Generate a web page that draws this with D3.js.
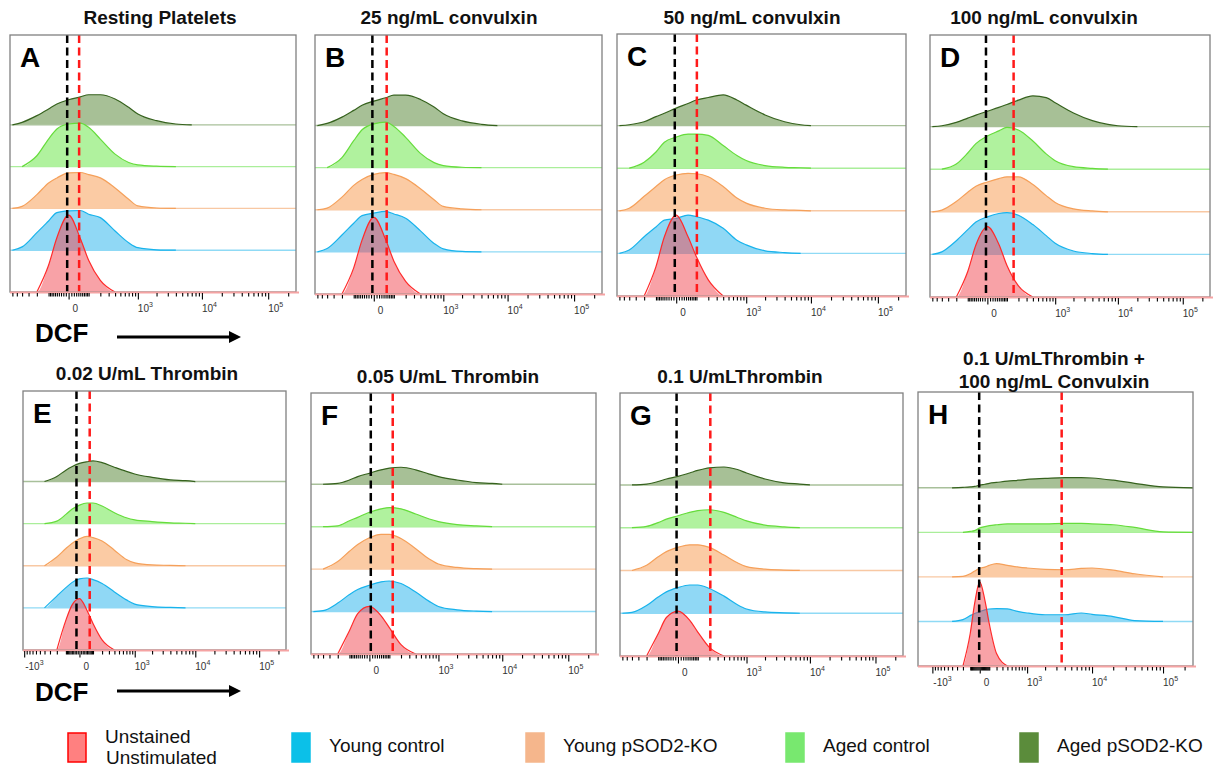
<!DOCTYPE html>
<html><head><meta charset="utf-8">
<script src="https://cdn.jsdelivr.net/npm/d3@7"></script>
<style>
body{margin:0;background:#fff;}
svg text{font-family:"Liberation Sans",Arial,sans-serif;}
</style></head><body>
<svg id="chart" width="1214" height="770"></svg>
<script>
// ---------------- DATA ----------------
const seriesNames = ["Unstained\nUnstimulated","Young control","Young pSOD2-KO","Aged control","Aged pSOD2-KO"];
const panelLetters = ["A","B","C","D","E","F","G","H"];
const panelTitles = [
  ["Resting Platelets"],["25 ng/mL convulxin"],["50 ng/mL convulxin"],["100 ng/mL convulxin"],
  ["0.02 U/mL Thrombin"],["0.05 U/mL Thrombin"],["0.1 U/mLThrombin"],["0.1 U/mLThrombin +","100 ng/mL Convulxin"]
];
// DCF fluorescence values at which histogram heights were read
const xGrid = [-1000,-600,-400,-200,-100,-50,0,50,100,200,400,700,1000,2000,4000,7000,10000,20000,40000,100000,262144];
// heights (100 = one lane step); order: Unstained, Young control, Young pSOD2-KO, Aged control, Aged pSOD2-KO
const histA = [
  [0,0,0,0,64,130,184,128,76,28,0,0,0,0,0,0,0,0,0,0,0],
  [0,0,8,42,70,90,94,95,86,78,46,18,6,1,0,0,0,0,0,0,0],
  [0,0,5,33,61,73,85,86,81,73,49,22,6,1,0,0,0,0,0,0,0],
  [0,0,0,26,66,90,102,104,94,66,30,10,4,1,0,0,0,0,0,0,0],
  [0,0,6,22,38,50,60,67,72,72,62,42,26,10,2,0,0,0,0,0,0]];
const histB = [
  [0,0,0,0,62,128,182,130,78,30,0,0,0,0,0,0,0,0,0,0,0],
  [0,0,8,40,68,86,92,96,90,80,50,20,7,1,0,0,0,0,0,0,0],
  [0,0,4,30,58,72,84,88,84,74,50,24,8,2,0,0,0,0,0,0,0],
  [0,0,0,24,64,90,104,108,98,72,34,12,5,1,0,0,0,0,0,0,0],
  [0,0,5,20,36,48,58,66,72,72,62,44,28,11,3,0,0,0,0,0,0]];
const histC = [
  [0,0,0,0,69,139,190,139,92,38,0,0,0,0,0,0,0,0,0,0,0],
  [0,0,8,39,62,78,82,90,86,78,59,31,20,6,2,0,0,0,0,0,0],
  [0,0,6,34,57,73,84,88,87,80,57,30,18,6,2,1,0,0,0,0,0],
  [0,0,0,14,38,61,73,80,80,77,53,30,18,6,2,1,0,0,0,0,0],
  [0,0,2,9,21,29,41,52,60,66,72,60,48,25,9,2,0,0,0,0,0]];
const histD = [
  [0,0,0,0,60,122,165,124,74,26,0,0,0,0,0,0,0,0,0,0,0],
  [0,0,6,32,58,76,88,96,98,92,70,44,26,8,2,0,0,0,0,0,0],
  [0,0,4,24,46,60,70,78,82,82,64,38,22,7,2,0,0,0,0,0,0],
  [0,0,0,12,38,60,78,90,98,92,66,36,20,6,2,0,0,0,0,0,0],
  [0,0,2,10,20,27,36,45,52,62,72,68,56,32,14,5,2,0,0,0,0]];
const histE = [
  [0,0,0,0,71,106,122,94,63,24,0,0,0,0,0,0,0,0,0,0,0],
  [0,0,0,28,48,60,69,71,67,58,38,19,9,3,1,0,0,0,0,0,0],
  [0,0,0,21,41,53,64,70,67,59,37,15,7,2,1,0,0,0,0,0,0],
  [0,0,0,6,22,34,44,49,49,42,26,14,9,5,2,1,0,0,0,0,0],
  [0,0,0,12,27,35,43,47,49,45,34,24,18,10,4,2,0,0,0,0,0]];
const histF = [
  [0,0,0,0,55,95,112,90,62,22,0,0,0,0,0,0,0,0,0,0,0],
  [0,0,2,20,40,52,62,70,72,66,46,24,12,4,1,0,0,0,0,0,0],
  [0,0,0,18,42,58,74,82,82,72,48,24,12,4,1,0,0,0,0,0,0],
  [0,0,0,2,14,22,34,42,45,42,30,18,12,5,2,0,0,0,0,0,0],
  [0,0,0,2,10,18,26,34,38,40,34,24,18,10,4,2,0,0,0,0,0]];
const histG = [
  [0,0,0,0,52,90,105,84,56,20,0,0,0,0,0,0,0,0,0,0,0],
  [0,0,2,18,38,50,60,66,66,58,40,20,10,3,1,0,0,0,0,0,0],
  [0,0,0,12,32,44,54,60,60,54,36,18,9,3,1,0,0,0,0,0,0],
  [0,0,0,3,12,20,28,36,40,42,36,24,16,6,2,0,0,0,0,0,0],
  [0,0,0,2,8,14,20,28,34,40,42,36,28,14,5,2,0,0,0,0,0]];
const histH = [
  [0,0,0,0,73,140,189,148,95,28,0,0,0,0,0,0,0,0,0,0,0],
  [0,0,0,4,13,18,22,26,28,29,28,22,19,15,15,19,16,11,2,0,0],
  [0,0,0,1,7,13,19,22,26,30,26,22,20,17,16,19,20,15,7,0,0],
  [0,0,0,0,2,4,10,13,15,17,19,19,19,19,20,20,19,17,11,1,0],
  [0,0,0,1,2,3,6,8,10,12,15,17,19,21,23,23,22,17,10,2,0]];
const panelHists = [histA,histB,histC,histD,histE,histF,histG,histH];
// dashed reference lines (DCF values)
const blackLine = [-5,-5,-5,-5,-18,5,-5,-5];
const redLine = [44,56,103,153,71,125,210,3600];
// axis (biexponential display) settings
const axisConst = [100,100,100,100,160,100,100,280];
const axisMin = [-660,-660,-660,-660,-1050,-660,-660,-1750];
const axisMax = 262144;
const majorTicks = [-1000,0,1000,10000,100000];
const majorLabels = [["-10","3"],["0",""],["10","3"],["10","4"],["10","5"]];

// ---------------- STYLE / LAYOUT ----------------
const strokeC = ["#ff2b2b","#18b3ec","#f5a05a","#66dc3c","#36621e"];
const fillC = ["rgba(242,70,80,0.5)","#90d8f5","#fbcba4","#b0f29e","#a7c096"];
const baseC = ["#f5a3a3","#8fdaf5","#f8c8a3","#aaee9a","#a8c09a"];
const legendC = ["#ff8080","#0bc0e8","#f5b68c","#78e86f","#5b8c3b"];
const boxes = [
  [10,296,35,292],[315,602,35,294],[617,906,34,296],[930,1210,35,297],
  [23,286,391,650],[311,596,393,654],[620,903,393,656],[918,1193,392,666]];
const titlePos = [[160,[24]],[449,[24]],[752,[24]],[1044,[24]],[147,[380]],[448,[383]],[740,[383]],[1054,[365,388]]];

const svg = d3.select("#chart");
const defs = svg.append("defs");

panelHists.forEach((hist,i)=>{
  const [x0,x1,y0,y1] = boxes[i];
  const x = d3.scaleSymlog().constant(axisConst[i]).domain([axisMin[i],axisMax]).range([x0,x1]);
  const laneH = (y1-y0)/6.15;
  const lane = d3.scaleLinear().domain([0,4]).range([y1,y1-4*laneH]);
  defs.append("clipPath").attr("id","clip"+i).append("rect")
    .attr("x",x0).attr("y",y0).attr("width",x1-x0).attr("height",y1-y0+1);
  const g = svg.append("g");
  const gc = g.append("g").attr("clip-path",`url(#clip${i})`);
  for(let s=4;s>=0;s--){
    const base = lane(s);
    const h = d3.scaleLinear().domain([0,100]).range([base,base-laneH]);
    const data = xGrid.map((v,k)=>[v,hist[s][k]]);
    if(s>0) gc.append("line").attr("x1",x0).attr("x2",x1).attr("y1",base).attr("y2",base)
      .attr("stroke",baseC[s]).attr("stroke-width",1.4);
    const area = d3.area().x(d=>x(d[0])).y0(base).y1(d=>h(d[1])).curve(d3.curveMonotoneX);
    gc.append("path").datum(data).attr("d",area).attr("fill",fillC[s]);
    const line = d3.line()
      .defined((d,k)=>d[1]>0||(k>0&&data[k-1][1]>0)||(k<data.length-1&&data[k+1][1]>0))
      .x(d=>x(d[0])).y(d=>h(d[1])).curve(d3.curveMonotoneX);
    gc.append("path").datum(data).attr("d",line).attr("fill","none")
      .attr("stroke",strokeC[s]).attr("stroke-width",1.2);
  }
  // dashed lines
  g.append("line").attr("x1",x(blackLine[i])).attr("x2",x(blackLine[i])).attr("y1",y0).attr("y2",y1)
    .attr("stroke","#000").attr("stroke-width",2.5).attr("stroke-dasharray","8,4.5");
  g.append("line").attr("x1",x(redLine[i])).attr("x2",x(redLine[i])).attr("y1",y0).attr("y2",y1)
    .attr("stroke","#ff1a1a").attr("stroke-width",2.5).attr("stroke-dasharray","8,4.5");
  // frame
  g.append("rect").attr("x",x0).attr("y",y0).attr("width",x1-x0).attr("height",y1-y0)
    .attr("fill","none").attr("stroke","#808080").attr("stroke-width",1.3);
  g.append("line").attr("x1",x0).attr("x2",x1+3).attr("y1",y1+0.5).attr("y2",y1+0.5)
    .attr("stroke",baseC[0]).attr("stroke-width",2);
  // ticks
  const dom = x.domain();
  const minor = [];
  for(let n=1;n<=5;n++) for(let k=1;k<=9;k++){
    const v = k*Math.pow(10,n);
    [v,-v].forEach(t=>{ if(t>=dom[0]&&t<=dom[1]&&!majorTicks.includes(t)) minor.push(t); });
  }
  const majors = majorTicks.filter(t=>t>=dom[0]&&t<=dom[1]);
  const axMinor = g.append("g").attr("transform",`translate(0,${y1+1})`)
    .call(d3.axisBottom(x).tickValues(minor).tickFormat("").tickSize(3.5));
  const axMajor = g.append("g").attr("transform",`translate(0,${y1+1})`)
    .call(d3.axisBottom(x).tickValues(majors).tickFormat("").tickSize(6.5));
  [axMinor,axMajor].forEach(a=>{a.select(".domain").remove(); a.selectAll("line").attr("stroke","#000").attr("stroke-width",1.1);});
  majorTicks.forEach((t,k)=>{
    if(t<dom[0]||t>dom[1]) return;
    const lab = majorLabels[k];
    const tx = g.append("text").attr("x",x(t)+(t===0?4:(t<0?1:0))).attr("y",y1+20)
      .attr("font-size",10).attr("fill","#333");
    tx.append("tspan").text(lab[0]);
    if(lab[1]) tx.append("tspan").attr("dy",-5).attr("font-size",7).text(lab[1]);
  });
  // letter
  g.append("text").attr("x",x0+10).attr("y",y0+32).attr("font-size",28).attr("font-weight","bold")
    .attr("fill","#000").text(panelLetters[i]);
  // title
  const [tcx,tys] = titlePos[i];
  panelTitles[i].forEach((t,k)=>{
    g.append("text").attr("x",tcx).attr("y",tys[k]).attr("text-anchor","middle")
      .attr("font-size",19).attr("font-weight","bold").attr("fill","#111").text(t);
  });
});

// DCF axis captions with arrows
[[342,337],[701,691]].forEach(([ty,ay])=>{
  svg.append("text").attr("x",35).attr("y",ty).attr("font-size",26).attr("font-weight","bold").text("DCF");
  svg.append("line").attr("x1",117).attr("x2",231).attr("y1",ay).attr("y2",ay).attr("stroke","#000").attr("stroke-width",3);
  svg.append("path").attr("d",`M229,${ay-6} L241,${ay} L229,${ay+6} Z`).attr("fill","#000");
});

// legend
const legX = [68,292,526,786,1020];
seriesNames.forEach((name,k)=>{
  svg.append("rect").attr("x",legX[k]).attr("y",733).attr("width",18).attr("height",29)
    .attr("fill",legendC[k]).attr("stroke",k===0?"#ff0000":legendC[k]).attr("stroke-width",1.5);
  const lines = name.split("\n");
  const t = svg.append("text").attr("x",legX[k]+37).attr("font-size",19).attr("fill","#111");
  if(lines.length===2){
    t.attr("y",743); t.append("tspan").text(lines[0]);
    t.append("tspan").attr("x",legX[k]+38).attr("dy",21).text(lines[1]);
  } else { t.attr("y",752).text(name); }
});
</script>
</body></html>
